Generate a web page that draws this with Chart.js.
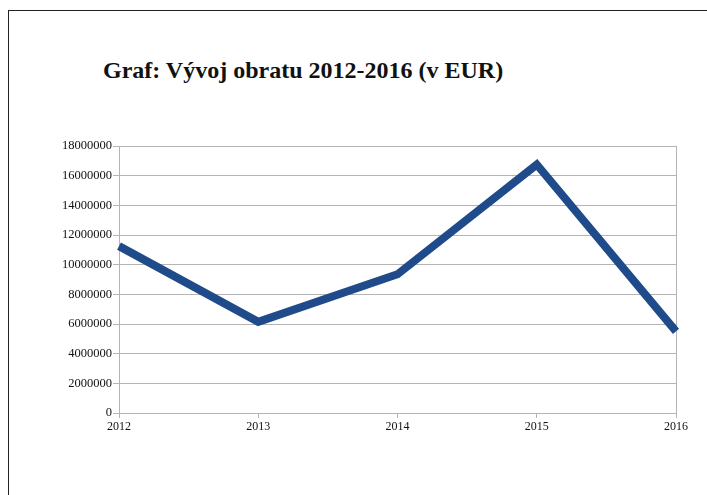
<!DOCTYPE html>
<html>
<head>
<meta charset="utf-8">
<script src="https://cdn.jsdelivr.net/npm/chart.js@4"></script>
<style>
  html,body{margin:0;padding:0;background:#fff;}
  .frame{position:absolute;left:8px;top:10px;width:720px;height:500px;border-top:1px solid #222;border-left:1px solid #222;}
  .title{position:absolute;left:103px;top:57px;font:bold 24px 'Liberation Serif',serif;color:#111;white-space:nowrap;}
  .wrap{position:absolute;left:0;top:0;width:707px;height:495px;}
</style>
</head>
<body>
<div class="frame"></div>
<div class="title">Graf: Vývoj obratu 2012-2016 (v EUR)</div>
<div class="wrap"><canvas id="obrat"></canvas></div>
<script>
// roky a obrat v EUR
const roky = ['2012', '2013', '2014', '2015', '2016'];
const obrat = [11250000, 6150000, 9350000, 16750000, 5500000];
const yMax = 18000000;
const yKrok = 2000000;

const seda = '#b4b4b4';
const font = { family: "'Liberation Serif', serif", size: 12 };

new Chart(document.getElementById('obrat'), {
  type: 'line',
  data: {
    labels: roky,
    datasets: [{
      label: 'Obrat',
      data: obrat,
      borderColor: '#1f4b8b',
      borderWidth: 8,
      borderJoinStyle: 'miter',
      borderCapStyle: 'butt',
      pointRadius: 0,
      tension: 0
    }]
  },
  options: {
    responsive: true,
    maintainAspectRatio: false,
    animation: false,
    layout: { padding: { left: 49, right: 31, top: 146, bottom: 62 } },
    plugins: { legend: { display: false }, tooltip: { enabled: false } },
    scales: {
      x: {
        offset: false,
        grid: {
          color: c => c.index === roky.length - 1 ? seda : 'transparent',
          tickColor: seda,
          tickLength: 5
        },
        border: { color: seda },
        ticks: { color: '#111', font, padding: 2, maxRotation: 0 },
        afterFit: s => { s.height = 20; }
      },
      y: {
        min: 0,
        max: yMax,
        grid: { color: seda, tickColor: seda, tickLength: 6 },
        border: { color: seda },
        ticks: {
          stepSize: yKrok,
          color: '#111',
          font: { family: font.family, size: 12.5 },
          padding: 1,
          callback: v => String(v)
        },
        afterFit: s => { s.width = 70; }
      }
    }
  }
});
</script>
</body>
</html>
